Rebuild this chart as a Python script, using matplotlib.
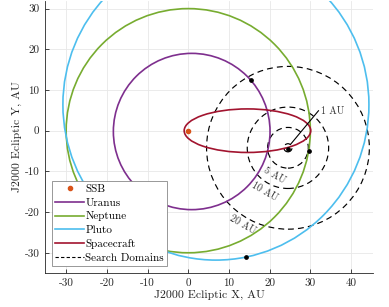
import matplotlib
matplotlib.use('Agg')
import matplotlib.pyplot as plt
from matplotlib.patches import Ellipse, Circle
from matplotlib.lines import Line2D

plt.rcParams['font.family'] = 'serif'
plt.rcParams['font.serif'] = ['cmr10']
plt.rcParams['axes.unicode_minus'] = False
plt.rcParams['axes.formatter.use_mathtext'] = False

# orbits: name, center x, center y, semi-axis x, semi-axis y, colour
orbit_names = ['Uranus', 'Neptune', 'Pluto', 'Spacecraft']
orbit_cx = [0.85, 0.0, 6.8, 14.55]
orbit_cy = [-0.2, 0.0, 6.4, 0.0]
orbit_rx = [19.25, 30.0, 37.6, 15.55]
orbit_ry = [19.2, 30.0, 38.2, 5.35]
orbit_colors = ['#7E2F8E', '#77AC30', '#4DBEEE', '#A2142F']

ssb = (0.0, 0.0)

# search domains around spacecraft target point
dom_center = (24.5, -4.2)
dom_radii = [1, 5, 10, 20]
dom_labels = ['5 AU', '10 AU', '20 AU']
dom_label_x = [21.3, 18.9, 13.5]
dom_label_y = [-11.0, -15.1, -23.2]
one_au_line_x = [25.1, 32.0]
one_au_line_y = [-3.4, 4.9]

# planet positions (black dots)
dots_x = [24.4, 15.4, 29.7, 14.3]
dots_y = [-4.4, 12.4, -5.1, -31.0]

fig = plt.figure(figsize=(3.89, 3.07), dpi=100)
ax = fig.add_axes([45/389, 33/307, 328/389, 274/307])

ax.plot(ssb[0], ssb[1], 'o', color='#D95319', ms=3, zorder=4)
for i in range(len(orbit_names)):
    e = Ellipse((orbit_cx[i], orbit_cy[i]), 2*orbit_rx[i], 2*orbit_ry[i],
                fill=False, ec=orbit_colors[i], lw=1.2, zorder=3)
    ax.add_patch(e)

for r in dom_radii:
    c = Circle(dom_center, r, fill=False, ec='k', lw=0.85, ls=(0, (5, 3.5)), zorder=2)
    ax.add_patch(c)
for i in range(len(dom_labels)):
    ax.text(dom_label_x[i], dom_label_y[i], dom_labels[i], fontsize=7.2, color='#333333',
            rotation=-30, ha='center', va='center', zorder=2.5)
ax.plot(one_au_line_x, one_au_line_y, color='k', lw=0.8, zorder=4)
ax.text(one_au_line_x[1] + 0.5, one_au_line_y[1], '1 AU', fontsize=7.2, color='#333333',
        ha='left', va='center')
ax.plot(dots_x, dots_y, 'o', color='k', ms=2.4, zorder=5)

ax.set_aspect('equal')
ax.set_xlim(-35.2, 45.4)
ax.set_ylim(-35.0, 31.9)
ax.set_xticks([-30, -20, -10, 0, 10, 20, 30, 40])
ax.set_yticks([-30, -20, -10, 0, 10, 20, 30])
ax.grid(True, color='#e8e8e8', lw=0.6)
ax.set_axisbelow(True)
for s in ['top', 'right']:
    ax.spines[s].set_visible(False)
for s in ['left', 'bottom']:
    ax.spines[s].set_color('#262626')
    ax.spines[s].set_linewidth(0.6)
ax.tick_params(direction='in', length=3, width=0.6, labelsize=8, colors='#262626', pad=4)
ax.set_xlabel('J2000 Ecliptic X, AU', fontsize=8.5, color='#262626', labelpad=1)
ax.set_ylabel('J2000 Ecliptic Y, AU', fontsize=8.5, color='#262626', labelpad=2)

handles = [Line2D([], [], ls='none', marker='o', color='#D95319', ms=3)]
for i in range(len(orbit_names)):
    handles.append(Line2D([], [], color=orbit_colors[i], lw=1.2))
handles.append(Line2D([], [], color='k', lw=0.8, ls=(0, (3, 2))))
labels = ['SSB'] + orbit_names + ['Search Domains']
leg = ax.legend(handles, labels, loc='lower left', bbox_to_anchor=(0.021, 0.026),
                borderaxespad=0, fontsize=8, fancybox=False, framealpha=1,
                edgecolor='#888888', handlelength=2.6, handletextpad=0.1,
                labelspacing=0.35, borderpad=0.3)
leg.get_frame().set_linewidth(0.6)

fig.savefig('out.png', dpi=100)
